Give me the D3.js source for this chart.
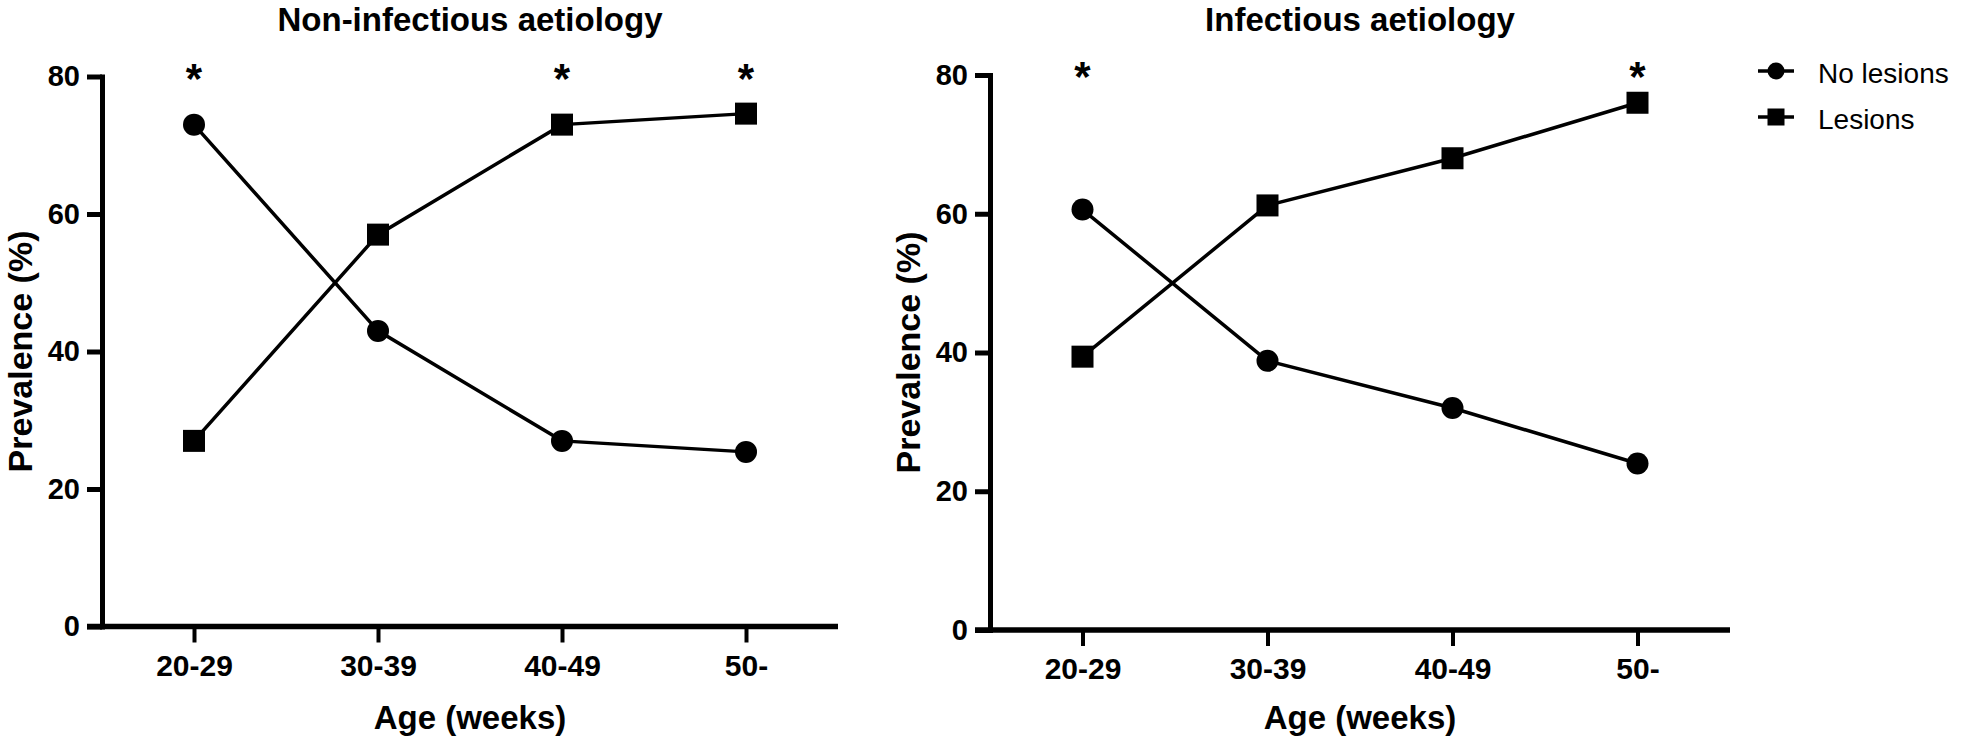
<!DOCTYPE html>
<html>
<head>
<meta charset="utf-8">
<script src="https://cdn.jsdelivr.net/npm/d3@7"></script>
<style>
  html, body { margin: 0; padding: 0; background: #fff; }
  svg { display: block; font-family: "Liberation Sans", Arial, sans-serif; }
  .axis path, .axis line { stroke: #000; }
  .axis text { fill: #000; font-weight: bold; }
</style>
</head>
<body>
<svg id="chart" width="1961" height="745"></svg>
<script>
// ─── Data ─────────────────────────────────────────────────────────────
const ageGroups = ['20-29', '30-39', '40-49', '50-'];
const yTicks = [0, 20, 40, 60, 80];

// Non-infectious aetiology
const nonInfNoLesions = [73, 43, 27, 25.4];
const nonInfLesions   = [27, 57, 73, 74.6];
const nonInfSignif    = ['20-29', '40-49', '50-'];

// Infectious aetiology
const infNoLesions = [60.6, 38.8, 32, 24];
const infLesions   = [39.4, 61.2, 68, 76];
const infSignif    = ['20-29', '50-'];

const seriesNames = ['No lesions', 'Lesions'];

// ─── Layout ───────────────────────────────────────────────────────────
const FONT = '"Liberation Sans", Arial, sans-serif';
const panels = [
  { title: 'Non-infectious aetiology', x0: 102, x1: 838, y0: 626.5, y1: 76.5,
    series: [nonInfNoLesions, nonInfLesions], signif: nonInfSignif },
  { title: 'Infectious aetiology', x0: 990, x1: 1730, y0: 630, y1: 75,
    series: [infNoLesions, infLesions], signif: infSignif }
];

const svg = d3.select('#chart');

function drawMarker(g, kind, cx, cy, size) {
  if (kind === 0) {
    g.append('circle').attr('cx', cx).attr('cy', cy).attr('r', size / 2).attr('fill', '#000');
  } else {
    g.append('rect').attr('x', cx - size / 2).attr('y', cy - size / 2)
      .attr('width', size).attr('height', size).attr('fill', '#000');
  }
}

panels.forEach(p => {
  const g = svg.append('g');
  const x = d3.scalePoint().domain(ageGroups).range([p.x0, p.x1]).padding(0.5);
  const y = d3.scaleLinear().domain([0, 80]).range([p.y0, p.y1]);

  // Axes
  const yAxis = g.append('g').attr('class', 'axis')
    .attr('transform', `translate(${p.x0},0)`)
    .call(d3.axisLeft(y).tickValues(yTicks).tickSize(15).tickSizeOuter(0).tickPadding(7));
  yAxis.select('.domain').attr('stroke-width', 5).attr('stroke-linecap', 'square');
  yAxis.selectAll('.tick line').attr('stroke-width', 5);
  yAxis.selectAll('.tick text').attr('font-size', 29).attr('font-family', FONT);

  const xAxis = g.append('g').attr('class', 'axis')
    .attr('transform', `translate(0,${p.y0})`)
    .call(d3.axisBottom(x).tickSize(16).tickSizeOuter(0).tickPadding(12));
  xAxis.select('.domain').attr('stroke-width', 5.5)
    .attr('d', `M${p.x0 - 15},0H${p.x1}`);
  xAxis.selectAll('.tick line').attr('stroke-width', 4);
  xAxis.selectAll('.tick text').attr('font-size', 30).attr('font-family', FONT);

  // Lines + markers
  const line = d3.line().x((_, i) => x(ageGroups[i])).y(d => y(d));
  p.series.forEach((vals, si) => {
    g.append('path').datum(vals)
      .attr('fill', 'none').attr('stroke', '#000').attr('stroke-width', 3.5)
      .attr('d', line);
    vals.forEach((v, i) => drawMarker(g, si, x(ageGroups[i]), y(v), 22));
  });

  // Significance asterisks
  g.selectAll('text.sig').data(p.signif).join('text')
    .attr('class', 'sig')
    .attr('x', d => x(d))
    .attr('y', y(80) + 16)
    .attr('text-anchor', 'middle')
    .attr('font-size', 42).attr('font-weight', 'bold')
    .text('*');

  // Titles
  const cx = (p.x0 + p.x1) / 2;
  g.append('text').attr('x', cx).attr('y', 31)
    .attr('text-anchor', 'middle').attr('font-size', 33).attr('font-weight', 'bold')
    .text(p.title);
  g.append('text').attr('x', cx).attr('y', 729)
    .attr('text-anchor', 'middle').attr('font-size', 33).attr('font-weight', 'bold')
    .text('Age (weeks)');
  g.append('text')
    .attr('transform', `translate(${p.x0 - 70},${(p.y0 + p.y1) / 2}) rotate(-90)`)
    .attr('text-anchor', 'middle').attr('font-size', 34).attr('font-weight', 'bold')
    .text('Prevalence (%)');
});

// Legend
const legend = svg.append('g').attr('transform', 'translate(1776,71)');
seriesNames.forEach((name, i) => {
  const ly = i * 46;
  legend.append('line').attr('x1', -18).attr('x2', 18).attr('y1', ly).attr('y2', ly)
    .attr('stroke', '#000').attr('stroke-width', 3.5);
  drawMarker(legend, i, 0, ly, 17);
  legend.append('text').attr('x', 42).attr('y', ly + 12)
    .attr('font-size', 28).text(name);
});
</script>
</body>
</html>
